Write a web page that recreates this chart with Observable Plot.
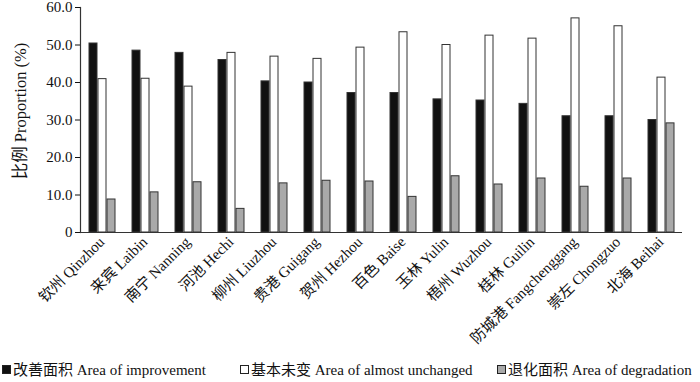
<!DOCTYPE html>
<html>
<head>
<meta charset="utf-8">
<script src="https://cdn.jsdelivr.net/npm/d3@7"></script>
<script src="https://cdn.jsdelivr.net/npm/@observablehq/plot@0.6"></script>
<style>
  body { margin: 0; background: #fff; }
  #chart { width: 700px; height: 350px; }
  .legend { font-family: "Liberation Serif", "Noto Sans CJK SC", serif; font-size: 15px; color: #111; position: relative; height: 32px; }
  .item { position: absolute; top: 12px; white-space: nowrap; line-height: 16px; }
  .sw { display: inline-block; width: 7px; height: 7px; border: 1px solid #222; margin-right: 2px; vertical-align: 1px; }
</style>
</head>
<body>
<div id="chart"></div>
<script>
const cities = ["钦州 Qinzhou", "来宾 Laibin", "南宁 Nanning", "河池 Hechi", "柳州 Liuzhou", "贵港 Guigang", "贺州 Hezhou", "百色 Baise", "玉林 Yulin", "梧州 Wuzhou", "桂林 Guilin", "防城港 Fangchenggang", "崇左 Chongzuo", "北海 Beihai"];
const improvement = [50.4, 48.5, 47.9, 46.0, 40.3, 40.0, 37.2, 37.2, 35.5, 35.2, 34.3, 31.0, 31.0, 30.0];
const unchanged   = [40.9, 41.0, 38.9, 47.9, 46.9, 46.3, 49.3, 53.4, 50.0, 52.5, 51.7, 57.1, 55.0, 41.3];
const degradation = [8.8, 10.7, 13.4, 6.3, 13.1, 13.8, 13.6, 9.5, 15.0, 12.8, 14.4, 12.2, 14.4, 29.1];
const seriesKeys = ["improvement", "unchanged", "degradation"];
const seriesLabels = ["改善面积  Area of improvement", "基本未变  Area of almost unchanged", "退化面积  Area of degradation"];
const seriesColors = ["#111111", "#ffffff", "#a9a9a9"];
const yTicks = [0, 10, 20, 30, 40, 50, 60];
const yTitle = "比例 Proportion (%)";

const seriesValues = [improvement, unchanged, degradation];
const data = cities.flatMap((c, i) => seriesKeys.map((k, j) => ({city: c, series: k, value: seriesValues[j][i]})));

const font = "'Liberation Serif', 'Noto Sans CJK SC', serif";

const chart = Plot.plot({
  width: 700,
  height: 350,
  marginLeft: 73,
  marginRight: 12,
  marginTop: 7,
  marginBottom: 118,
  style: {fontFamily: font, fontSize: "15px", color: "#111", background: "#fff", overflow: "visible"},
  fx: {domain: cities, padding: 0, label: null, axis: null},
  x: {domain: seriesKeys, paddingInner: 0.16, paddingOuter: 0.9, axis: null},
  y: {domain: [0, 60], label: null},
  color: {domain: seriesKeys, range: seriesColors},
  marks: [
    Plot.barY(data, {fx: "city", x: "series", y: "value", fill: "series", stroke: "#333", strokeWidth: 1}),
    Plot.ruleY([0], {stroke: "#333", strokeWidth: 1.2}),
    Plot.frame({anchor: "left", facetAnchor: "left", stroke: "#333", strokeWidth: 1.2}),
    Plot.axisY({ticks: yTicks, tickFormat: d => d === 0 ? "0" : d.toFixed(1), tickSize: 5, tickPadding: 3, fontSize: 15, label: null}),
    Plot.text([yTitle], {frameAnchor: "left", facetAnchor: "left", textAnchor: "middle", lineAnchor: "middle", rotate: -90, dx: -60, dy: -9, fontSize: 16.5, fill: "#111"}),
    Plot.axisFx({anchor: "bottom", tickRotate: -45, tickSize: 0, tickPadding: 7, fontSize: 15, label: null})
  ]
});
document.getElementById("chart").appendChild(chart);

const legend = document.createElement("div");
legend.className = "legend";
const lefts = [2, 240, 497];
seriesLabels.forEach((lab, j) => {
  const it = document.createElement("span");
  it.className = "item";
  it.style.left = lefts[j] + "px";
  const sw = document.createElement("span");
  sw.className = "sw";
  sw.style.background = seriesColors[j];
  it.appendChild(sw);
  it.appendChild(document.createTextNode(lab));
  legend.appendChild(it);
});
document.body.appendChild(legend);
</script>
</body>
</html>
